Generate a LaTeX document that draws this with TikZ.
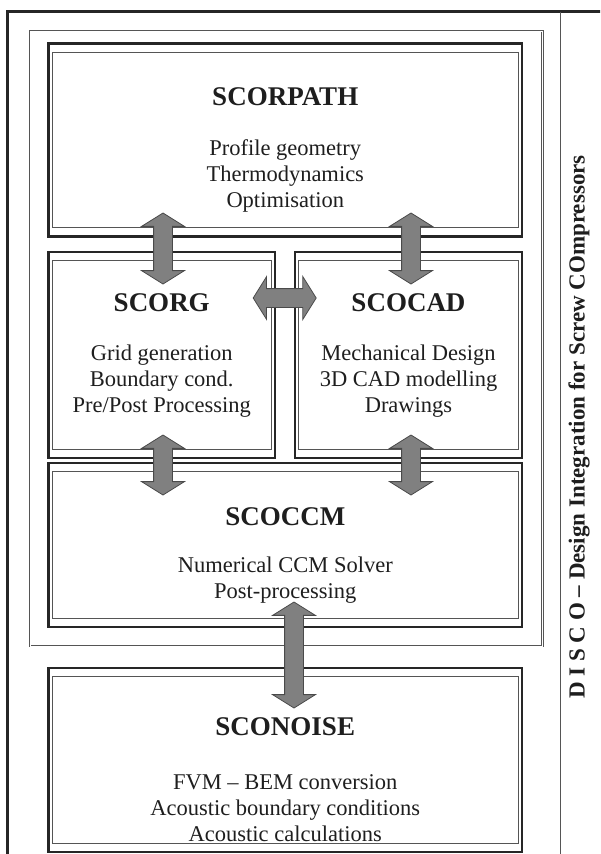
\documentclass[tikz,border=0pt]{standalone}
\usepackage{fontspec}
\setmainfont{Liberation Serif}
\usetikzlibrary{shapes.arrows,fit}

\definecolor{linedark}{HTML}{262626}
\definecolor{linegray}{HTML}{555555}
\definecolor{arrowfill}{HTML}{808080}
\definecolor{arrowline}{HTML}{4A4A4A}
\definecolor{inkgray}{HTML}{1E1E1E}

\tikzset{
  modbox/.style={draw=linedark, line width=2.5pt, inner sep=0pt},
  modinner/.style={draw=linegray, line width=1.1pt},
  groupframe/.style={draw=linegray, line width=0.7pt, double=white, double distance=1pt},
  modtitle/.style={text=inkgray, font=\fontsize{27}{32}\selectfont\bfseries},
  modtext/.style={text=inkgray, align=center, font=\fontsize{22.5}{26}\selectfont},
  sidetitle/.style={text=inkgray, font=\fontsize{23}{26}\selectfont\bfseries},
  flowarrow/.style={double arrow, fill=arrowfill, draw=arrowline, line width=0.8pt,
    inner xsep=0pt, inner ysep=9pt, minimum width=0pt,
    double arrow head extend=12pt, double arrow tip angle=116}
}

\begin{document}
\begin{tikzpicture}[x=1pt,y=-1pt]
  \path[use as bounding box] (0,0) rectangle (600,854);
  \clip (0,0) rectangle (600,854);

  \draw [draw=linedark, line width=2.5pt] (7.5,11.5) rectangle (640,900);
  \draw [draw=linegray, line width=1.2pt] (560.5,11.5) -- (560.5,900);
  \draw [groupframe] (30,31) rectangle (542.5,646);

  \node [modbox, fit={(48.5,43.5) (522,236.5)}]  (scorpath) {};
  \node [modbox, fit={(48.5,252) (275,458)}]     (scorg)    {};
  \node [modbox, fit={(295,252) (522,458)}]      (scocad)   {};
  \node [modbox, fit={(48.5,463) (522,627)}]     (scoccm)   {};
  \node [modbox, fit={(48.5,668) (522,852)}]     (sconoise) {};

  \foreach \m in {scorpath,scorg,scocad,scoccm,sconoise}
    \draw [modinner] ([xshift=5pt,yshift=-10pt]\m.north west) rectangle ([xshift=-5pt,yshift=10pt]\m.south east);

  \node [modtitle] (scorpath-t) at (285.25,97) {SCORPATH};
  \node [modtext]  (scorpath-b) at (285.25,176) {Profile geometry\\Thermodynamics\\Optimisation};

  \node [modtitle] (scorg-t) at (161.75,303) {SCORG};
  \node [modtext]  (scorg-b) at (161.75,381) {Grid generation\\Boundary cond.\\Pre/Post Processing};

  \node [modtitle] (scocad-t) at (408.5,303) {SCOCAD};
  \node [modtext]  (scocad-b) at (408.5,381) {Mechanical Design\\3D CAD modelling\\Drawings};

  \node [modtitle] (scoccm-t) at (285.25,517) {SCOCCM};
  \node [modtext]  (scoccm-b) at (285.25,580) {Numerical CCM Solver\\Post-processing};

  \node [modtitle] (sconoise-t) at (285.25,727) {SCONOISE};
  \node [modtext]  (sconoise-b) at (285.25,808) {FVM -- BEM conversion\\Acoustic boundary conditions\\Acoustic calculations};

  \node [flowarrow, rotate=90, minimum height=71pt]  (path-org)  at (163,248.5) {};
  \node [flowarrow, rotate=90, minimum height=71pt]  (path-cad)  at (411,248.5) {};
  \node [flowarrow, minimum height=63pt]             (org-cad)   at (284.7,298) {};
  \node [flowarrow, rotate=90, minimum height=60pt]  (org-ccm)   at (163,465) {};
  \node [flowarrow, rotate=90, minimum height=60pt]  (cad-ccm)   at (411,465) {};
  \node [flowarrow, rotate=90, minimum height=106pt] (ccm-noise) at (294,655) {};

  \node [sidetitle, rotate=90] (disco) at (579,427) {D I S C O -- Design Integration for Screw COmpressors};
\end{tikzpicture}
\end{document}
